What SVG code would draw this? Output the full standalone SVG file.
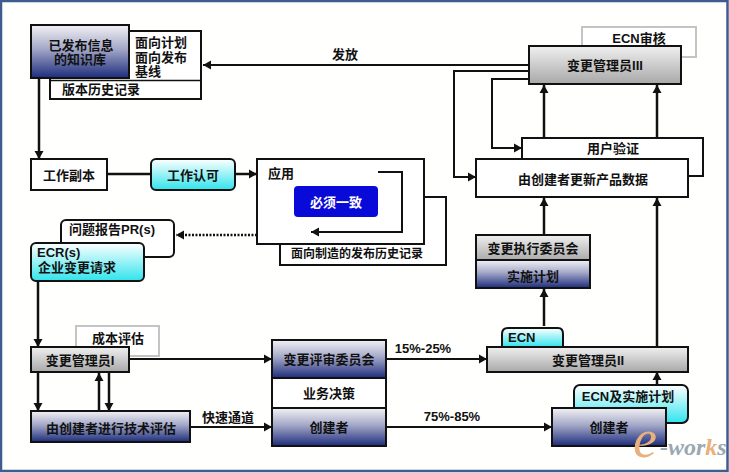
<svg xmlns="http://www.w3.org/2000/svg" width="729" height="473" viewBox="0 0 729 473">
<style>
text{font-family:"Liberation Sans","Noto Sans CJK SC",sans-serif;font-size:13px;font-weight:700;fill:#111;text-anchor:middle;dominant-baseline:central}
.l{text-anchor:start}
.w{fill:#fff}
.b{fill:#fff;stroke:#111;stroke-width:2}
.k{stroke:#111;stroke-width:1.5}
.g{fill:#fff;stroke:#c4c4c4;stroke-width:2}
.nv{fill:url(#nv);stroke:#111;stroke-width:2}
.gy{fill:url(#gy);stroke:#111;stroke-width:2}
.cy{fill:url(#cy);stroke:#111;stroke-width:2}
.c{fill:none;stroke:#111;stroke-width:2.5}
.h{fill:none;stroke:#111;stroke-width:2}
.t{fill:none;stroke:#111;stroke-width:2}
.logo{font-family:"Liberation Serif",serif;font-style:italic;text-anchor:start;dominant-baseline:auto}
</style>
<defs>
<linearGradient id="nv" x1="0" y1="0" x2="0" y2="1"><stop offset="0" stop-color="#f2f2f4"/><stop offset="0.45" stop-color="#a4a8c8"/><stop offset="1" stop-color="#1c2c7c"/></linearGradient>
<linearGradient id="gy" x1="0" y1="0" x2="0" y2="1"><stop offset="0" stop-color="#f0f0f0"/><stop offset="1" stop-color="#a8a8a8"/></linearGradient>
<linearGradient id="cy" x1="0" y1="0" x2="0" y2="1"><stop offset="0" stop-color="#ffffff"/><stop offset="1" stop-color="#30e4ec"/></linearGradient>
<marker id="a" markerUnits="userSpaceOnUse" markerWidth="9" markerHeight="10" refX="8" refY="5" orient="auto"><path d="M0 .5L8 5L0 9.500Z" fill="#111"/></marker>
</defs>
<rect width="729" height="473" fill="#fffffd"/>
<rect x="1" y="1" width="726.500" height="470" fill="none" stroke="#3f5c8f" stroke-width="2.500"/>

<g id="connectors">
<path class="c" d="M39 79V159" marker-end="url(#a)"/>
<path class="c" d="M107 174H151"/>
<path class="c" d="M235 174H257" marker-end="url(#a)"/>
<path class="h" d="M529 65H203" marker-end="url(#a)"/>
<path class="t" d="M529 71H454V177H476" marker-end="url(#a)"/>
<path class="t" d="M529 79H492V148H522" marker-end="url(#a)"/>
<path class="c" d="M544 138V85" marker-end="url(#a)"/>
<path class="c" d="M657 138V85" marker-end="url(#a)"/>
<path class="c" d="M544 235V198" marker-end="url(#a)"/>
<path class="c" d="M657 347V198" marker-end="url(#a)"/>
<path class="c" d="M544 326V289" marker-end="url(#a)"/>
<path class="c" d="M657 385V372" marker-end="url(#a)"/>
<path d="M257 235H176" fill="none" stroke="#111" stroke-width="2.500" stroke-dasharray="2 1.500" marker-end="url(#a)"/>
<path class="c" d="M38 281V347" marker-end="url(#a)"/>
<path class="c" d="M38 372V411" marker-end="url(#a)"/>
<path class="c" d="M99 411V373" marker-end="url(#a)"/>
<path class="c" d="M109 372V411" marker-end="url(#a)"/>
<path class="h" d="M129 359H272" marker-end="url(#a)"/>
<path class="h" d="M190 427H272" marker-end="url(#a)"/>
<path class="h" d="M386 359H487" marker-end="url(#a)"/>
<path class="h" d="M386 427H552" marker-end="url(#a)"/>
</g>

<g id="n-kb-side">
<rect class="b" x="50" y="31" width="151" height="68"/>
<path class="k" d="M50 80.500H201"/>
<text class="l" x="135" y="42">面向计划</text>
<text class="l" x="135" y="57">面向发布</text>
<text class="l" x="135" y="71">基线</text>
<text x="101" y="89">版本历史记录</text>
</g>
<g id="n-kb">
<rect class="nv" x="31" y="25" width="98" height="53"/>
<text x="81" y="45">已发布信息</text>
<text x="80" y="59">的知识库</text>
</g>
<g id="n-copy"><rect class="b" x="31" y="159" width="76" height="31"/><text x="69" y="175">工作副本</text></g>
<g id="n-ack"><rect class="cy" x="151" y="159" width="84" height="31" rx="5"/><text x="193" y="175">工作认可</text></g>
<g id="n-history"><rect class="b" x="280" y="197" width="166" height="68"/><text x="357" y="254" style="font-size:12px">面向制造的发布历史记录</text></g>
<g id="n-app">
<rect class="b" x="257" y="159" width="167" height="85"/>
<text x="281" y="173">应用</text>
<path class="t" d="M378 172H402V232H311" marker-end="url(#a)"/>
<rect x="294" y="186" width="84" height="31" rx="4" fill="#0a0ad8"/>
<text class="w" x="336" y="202">必须一致</text>
</g>
<g id="n-pr"><rect class="b" x="61" y="220" width="113" height="37" rx="5"/><text x="112" y="229">问题报告PR(s)</text></g>
<g id="n-ecr">
<rect class="cy" x="31" y="243" width="113" height="38" rx="5"/>
<text class="l" x="37" y="252">ECR(s)</text>
<text class="l" x="38" y="267">企业变更请求</text>
</g>
<g id="n-cost"><rect class="g" x="76" y="326" width="83" height="30"/><text x="118" y="338">成本评估</text></g>
<g id="n-m1"><rect class="gy" x="31" y="347" width="98" height="25"/><text x="80" y="360">变更管理员I</text></g>
<g id="n-tech"><rect class="nv" x="31" y="411" width="159" height="31"/><text x="111" y="428">由创建者进行技术评估</text></g>
<g id="n-board">
<rect class="b" x="272" y="340" width="114" height="106"/>
<rect class="nv" x="272" y="340" width="114" height="38"/>
<rect class="nv" x="272" y="408" width="114" height="38"/>
<text x="329" y="359">变更评审委员会</text>
<text x="329" y="393">业务决策</text>
<text x="329" y="427">创建者</text>
</g>
<g id="n-ecn"><path class="cy" d="M502 347V334Q502 328 508 328H558Q563 328 563 334V347Z"/><text class="l" x="508" y="337">ECN</text></g>
<g id="n-m2"><rect class="gy" x="487" y="347" width="201" height="25"/><text x="588" y="360">变更管理员II</text></g>
<g id="n-ecnplan"><rect class="cy" x="574" y="385" width="114" height="38" rx="6"/><text x="628" y="396">ECN及实施计划</text></g>
<g id="n-creator"><rect class="nv" x="552" y="408" width="114" height="38"/><text x="609" y="427">创建者</text></g>
<g id="n-exec">
<rect class="gy" x="476" y="235" width="114" height="26"/>
<rect class="nv" x="476" y="260" width="114" height="28"/>
<text x="533" y="248">变更执行委员会</text>
<text x="533" y="276">实施计划</text>
</g>
<g id="n-verify"><rect class="b" x="522" y="138" width="181" height="38"/><text x="613" y="148">用户验证</text></g>
<g id="n-update"><rect class="b" x="476" y="159" width="212" height="38"/><text x="583" y="179">由创建者更新产品数据</text></g>
<g id="n-audit"><rect class="g" x="582" y="27" width="114" height="30"/><text x="639" y="38">ECN审核</text></g>
<g id="n-m3"><rect class="gy" x="529" y="46" width="152" height="38"/><text x="605" y="65">变更管理员III</text></g>

<text x="345" y="54">发放</text>
<text x="423" y="348">15%-25%</text>
<text x="452" y="416">75%-85%</text>
<text x="228" y="417">快速通道</text>
<g id="logo">
<text class="logo" x="633" y="457" style="font-size:54px;fill:#e8b07c;font-weight:400">e</text>
<text class="logo" x="660" y="455" style="font-size:24px;fill:#9aa8b2">-wor<tspan style="fill:#e8b07c">k</tspan>s</text>
</g>
</svg>
